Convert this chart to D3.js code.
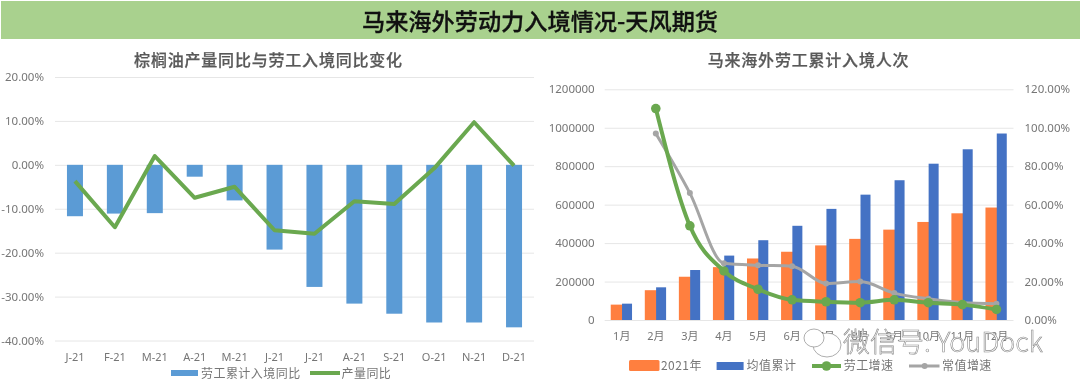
<!DOCTYPE html>
<html><head><meta charset="utf-8">
<script src="https://cdn.jsdelivr.net/npm/d3@7/dist/d3.min.js"></script>
<style>
html,body{margin:0;padding:0;background:#fff;overflow:hidden}
svg{display:block;filter:blur(.4px)}
text{font-family:"Noto Sans CJK SC","Noto Sans",sans-serif}
.tick text{fill:#767676;font-size:11px;font-family:"Noto Sans","Noto Sans CJK SC",sans-serif}
.yt .tick text{font-size:11.5px}
.leg{fill:#767676;font-size:12px;letter-spacing:.45px}
.sub{fill:#595959;font-size:16px;font-weight:500;letter-spacing:.8px;stroke:#595959;stroke-width:.25px}
</style></head><body>
<svg id="c" width="1080" height="389"></svg>
<script>
const mainTitle="马来海外劳动力入境情况-天风期货";
const leftTitle="棕榈油产量同比与劳工入境同比变化";
const rightTitle="马来海外劳工累计入境人次";
const leftCats=["J-21","F-21","M-21","A-21","M-21","J-21","J-21","A-21","S-21","O-21","N-21","D-21"];
const laborYoY=[-11.7,-11.1,-11,-2.7,-8.1,-19.3,-27.8,-31.6,-33.9,-35.9,-35.9,-37];
const outputYoY=[-3.7,-14.2,2,-7.5,-5,-14.9,-15.7,-8.3,-8.9,-0.8,9.7,-0.2];
const leftTicks=[20,10,0,-10,-20,-30,-40];
const rightCats=["1月","2月","3月","4月","5月","6月","7月","8月","9月","10月","11月","12月"];
const y2021=[80000,155000,225000,275000,320000,355000,388000,422000,470000,510000,555000,585000];
const avgCum=[85000,170000,260000,335000,415000,490000,578000,652000,727000,813000,888000,970000];
const laborGrowth=[null,110,49,25.5,16,10.5,9.5,9,10.5,9,8,5.5];
const normalGrowth=[null,97,66,29.5,28.5,28,19,20,14,11,9,8.5];
const rightTicks=[0,200000,400000,600000,800000,1000000,1200000];
const pctTicks=[0,20,40,60,80,100,120];

const svg=d3.select("#c");
const BLUE="#5B9BD5",GREEN="#6AA84F",ORANGE="#FF7F3F",ROYAL="#4472C4",GRAY="#A5A5A5",GRID="#E6E6E6";

svg.append("rect").attr("x",1).attr("y",1).attr("width",1079).attr("height",38).attr("fill","#A9D18E");
svg.append("text").attr("x",540).attr("y",29.5).attr("text-anchor","middle")
  .attr("font-size",23.2).attr("font-weight",500).attr("fill","#111").attr("stroke","#111").attr("stroke-width",.3).text(mainTitle);

/* left chart */
const lx=d3.scaleBand().domain(d3.range(12)).range([55,534]);
const ly=d3.scaleLinear().domain([-40,20]).range([340.5,77]);
svg.append("text").attr("class","sub").attr("x",268.5).attr("y",66).attr("text-anchor","middle").text(leftTitle);
const lAxis=svg.append("g").attr("class","yt").attr("transform","translate(55,0)")
  .call(d3.axisLeft(ly).tickValues(leftTicks).tickSize(-479).tickPadding(11).tickFormat(d=>d.toFixed(2)+"%"));
lAxis.select(".domain").remove();
lAxis.selectAll("line").attr("stroke",GRID);
const lxAxis=svg.append("g").attr("transform","translate(0,350)")
  .call(d3.axisBottom(lx).tickSize(0).tickPadding(3).tickFormat(i=>leftCats[i]));
lxAxis.select(".domain").remove();
const lbw=16;
svg.append("g").selectAll("rect").data(laborYoY).join("rect")
  .attr("x",(d,i)=>lx(i)+lx.bandwidth()/2-lbw/2).attr("width",lbw)
  .attr("y",ly(0)).attr("height",d=>ly(d)-ly(0)).attr("fill",BLUE);
svg.append("path").datum(outputYoY)
  .attr("d",d3.line().x((d,i)=>lx(i)+lx.bandwidth()/2).y(d=>ly(d)))
  .attr("fill","none").attr("stroke",GREEN).attr("stroke-width",4).attr("stroke-linejoin","round");
svg.append("rect").attr("x",171).attr("y",370).attr("width",27).attr("height",6).attr("fill",BLUE);
svg.append("text").attr("class","leg").attr("x",201).attr("y",377.5).text("劳工累计入境同比");
svg.append("line").attr("x1",310).attr("x2",340).attr("y1",373).attr("y2",373).attr("stroke",GREEN).attr("stroke-width",4);
svg.append("text").attr("class","leg").attr("x",341.5).attr("y",377.5).text("产量同比");

/* right chart */
const rx=d3.scaleBand().domain(d3.range(12)).range([604.7,1013.5]);
const ry=d3.scaleLinear().domain([0,1200000]).range([320,89.3]);
const rp=d3.scaleLinear().domain([0,120]).range([320,89.3]);
const cx=i=>rx(i)+rx.bandwidth()/2;
svg.append("text").attr("class","sub").attr("x",808.5).attr("y",66).attr("text-anchor","middle").text(rightTitle);
const rAxis=svg.append("g").attr("class","yt").attr("transform","translate(604.7,0)")
  .call(d3.axisLeft(ry).tickValues(rightTicks).tickSize(-408.8).tickPadding(10).tickFormat(d3.format("d")));
rAxis.select(".domain").remove();
rAxis.selectAll("line").attr("stroke",GRID);
const rpAxis=svg.append("g").attr("class","yt").attr("transform","translate(1013.5,0)")
  .call(d3.axisRight(rp).tickValues(pctTicks).tickSize(0).tickPadding(11).tickFormat(d=>d.toFixed(2)+"%"));
rpAxis.select(".domain").remove();
const rxAxis=svg.append("g").attr("transform","translate(0,329)")
  .call(d3.axisBottom(rx).tickSize(0).tickPadding(3).tickFormat(i=>rightCats[i]));
rxAxis.select(".domain").remove();
svg.append("g").selectAll("rect").data(y2021).join("rect")
  .attr("x",(d,i)=>cx(i)-11).attr("width",12)
  .attr("y",d=>ry(d)).attr("height",d=>ry(0)-ry(d)).attr("fill",ORANGE);
svg.append("g").selectAll("rect").data(avgCum).join("rect")
  .attr("x",(d,i)=>cx(i)+.3).attr("width",10)
  .attr("y",d=>ry(d)).attr("height",d=>ry(0)-ry(d)).attr("fill",ROYAL);
const smooth=d3.line().defined(d=>d!=null).x((d,i)=>cx(i)).y(d=>rp(d)).curve(d3.curveMonotoneX);
function series(vals,color,w,r){
  svg.append("path").datum(vals).attr("d",smooth).attr("fill","none").attr("stroke",color).attr("stroke-width",w);
  svg.append("g").selectAll("circle").data(vals.map((v,i)=>[v,i]).filter(d=>d[0]!=null)).join("circle")
    .attr("cx",d=>cx(d[1])).attr("cy",d=>rp(d[0])).attr("r",r).attr("fill",color);
}
series(normalGrowth,GRAY,3,3);
series(laborGrowth,GREEN,4,4.8);

svg.append("rect").attr("x",629).attr("y",360).attr("width",30.5).attr("height",11).attr("rx",1.5).attr("fill",ORANGE);
svg.append("text").attr("class","leg").attr("x",661).attr("y",369.5).text("2021年");
svg.append("rect").attr("x",716.6).attr("y",362).attr("width",27).attr("height",8).attr("fill",ROYAL);
svg.append("text").attr("class","leg").attr("x",746.6).attr("y",369.5).text("均值累计");
svg.append("line").attr("x1",812).attr("x2",841).attr("y1",366).attr("y2",366).attr("stroke",GREEN).attr("stroke-width",4);
svg.append("circle").attr("cx",826.5).attr("cy",366).attr("r",4.8).attr("fill",GREEN);
svg.append("text").attr("class","leg").attr("x",843.7).attr("y",369.5).text("劳工增速");
svg.append("line").attr("x1",909).attr("x2",939.5).attr("y1",366).attr("y2",366).attr("stroke",GRAY).attr("stroke-width",3);
svg.append("circle").attr("cx",924.6).attr("cy",366).attr("r",3).attr("fill",GRAY);
svg.append("text").attr("class","leg").attr("x",942).attr("y",369.5).text("常值增速");

/* watermark */
const wm=svg.append("g");
wm.append("ellipse").attr("cx",827).attr("cy",345).attr("rx",14).attr("ry",12).attr("fill","#fff").attr("stroke","#999").attr("stroke-width",.8);
wm.append("ellipse").attr("cx",814).attr("cy",338).attr("rx",10).attr("ry",9).attr("fill","#fff").attr("stroke","#999").attr("stroke-width",.8);
wm.append("text").attr("x",843).attr("y",352).attr("font-size",27).attr("font-weight",300)
  .attr("fill","#fff").attr("stroke","#8a8a8a").attr("stroke-width",.6).text("微信号: YouDock");
</script>
</body></html>
